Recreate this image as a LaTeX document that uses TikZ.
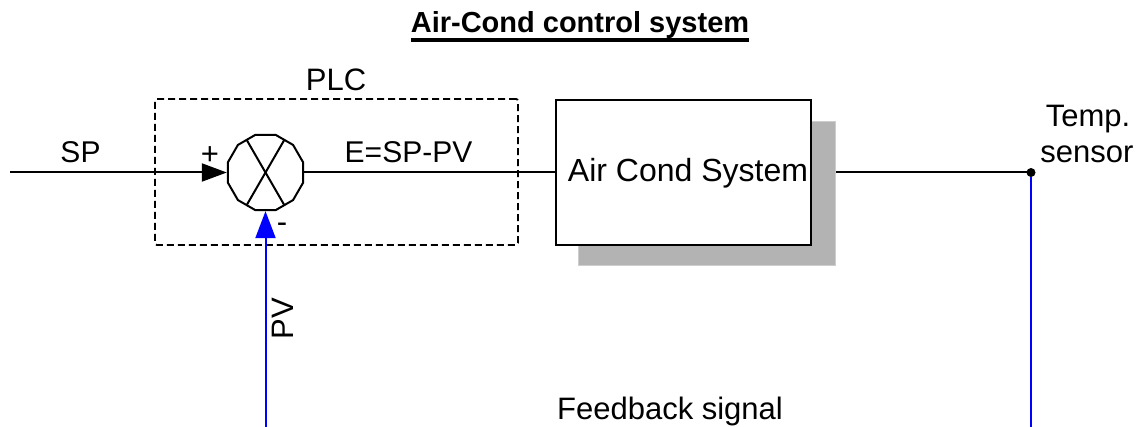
\documentclass[tikz,border=0pt]{standalone}
\usepackage{fontspec}
\setmainfont{Liberation Sans}
\usetikzlibrary{arrows.meta,shapes.geometric}
\definecolor{shadowgray}{RGB}{179,179,179}
\definecolor{shadowedge}{RGB}{205,205,205}
\definecolor{fbblue}{RGB}{0,0,255}
\begin{document}
\begin{tikzpicture}[x=1pt,y=-1pt,
  txt/.style={inner sep=0pt, font=\fontsize{31}{36}\selectfont},
  smalltxt/.style={inner sep=0pt, font=\fontsize{30}{35}\selectfont},
  sig/.style={line width=2pt},
  fb/.style={line width=2pt, draw=fbblue},
  blockbox/.style={draw, fill=white, line width=2.5pt, minimum width=255pt, minimum height=145pt, inner sep=0pt},
  shadowbox/.style={fill=shadowgray, draw=shadowedge, line width=1pt, minimum width=257pt, minimum height=144pt, inner sep=0pt},
  plcbox/.style={draw, dash pattern=on 7pt off 4pt, line width=1.8pt, minimum width=363pt, minimum height=146pt, inner sep=0pt, rounded corners=2pt},
  sumnode/.style={draw, regular polygon, regular polygon sides=12, minimum size=78pt, inner sep=0pt, line width=2pt},
]
\useasboundingbox (0,0) rectangle (1142,427);
% title
\node[inner sep=0pt, anchor=base, font=\fontsize{29}{34}\selectfont\bfseries] (title) at (580,33) {Air-Cond control system};
\draw[line width=3.5pt] ([yshift=-7pt]title.base west) -- ([yshift=-7pt]title.base east);
% PLC
\node[plcbox] (plc) at (336.5,172) {};
\node[txt, anchor=base] (plclbl) at (336,91) {PLC};
% summing junction
\node[sumnode] (sum) at (265.5,172.5) {};
\draw[line width=2pt] ([shift={(60:37pt)}]sum.center) -- ([shift={(240:37pt)}]sum.center);
\draw[line width=2pt] ([shift={(120:37pt)}]sum.center) -- ([shift={(300:37pt)}]sum.center);
% setpoint input
\coordinate (spin) at (10,172.5);
\draw[sig, -{Triangle[length=25pt,width=18pt]}] (spin) -- (sum.west);
\node[smalltxt, anchor=base] (sp) at (80.5,163) {SP};
\node[txt] (plus) at (210,156) {+};
\node[smalltxt, anchor=base] (err) at (408.5,163) {E=SP-PV};
\node[txt] (minus) at (282,228) {-};
% system block
\node[shadowbox] (shadow) at (706.5,194) {};
\node[blockbox] (sys) at (683.5,172.5) {};
\node[inner sep=0pt, anchor=base, font=\fontsize{32}{38}\selectfont] (systxt) at (688,182) {Air Cond System};
\draw[sig] (sum.east) -- (sys.west);
% sensor point
\node[circle, fill=black, inner sep=0pt, minimum size=9pt] (dot) at (1031,172.5) {};
\draw[sig] (shadow.east |- sys.east) -- (dot.center);
\node[txt, anchor=base] (temp) at (1088,127) {Temp.};
\node[txt, anchor=base] (sensor) at (1087,163) {sensor};
% feedback
\coordinate (fbR) at (1031,427);
\coordinate (fbL) at (265.5,427);
\draw[fb] (dot.south) -- (fbR);
\draw[fb, -{Triangle[length=27pt,width=20pt]}] (fbL) -- (sum.south);
\node[txt, rotate=90, anchor=base] (pv) at (293,318.5) {PV};
\node[txt, anchor=base] (fblbl) at (670,419) {Feedback signal};
\end{tikzpicture}
\end{document}
